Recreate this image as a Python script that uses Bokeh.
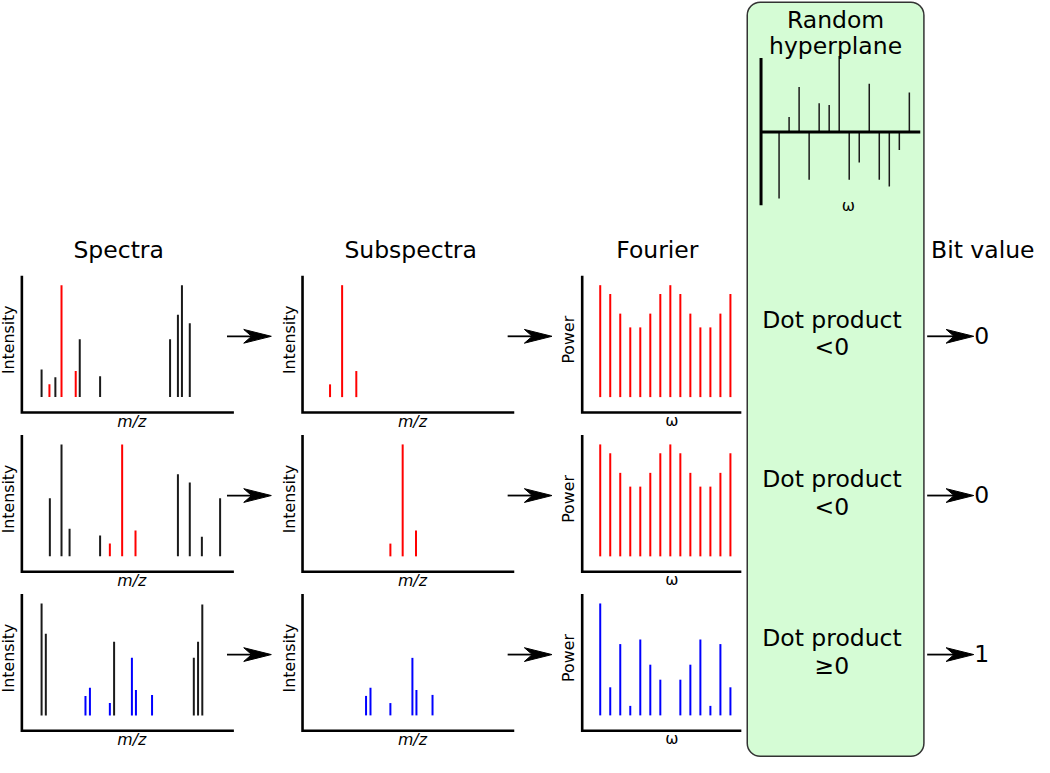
import numpy as np
from bokeh.plotting import figure
from bokeh.models import Range1d, BoxAnnotation, ColumnDataSource
from bokeh.embed import file_html
from bokeh.resources import INLINE
from bokeh.core.properties import value

# ---------------- data ----------------
column_titles = ["Spectra", "Subspectra", "Fourier", "Bit value"]
box_title = ["Random", "hyperplane"]

spec1_mz = [9.3, 13.0, 15.8, 18.7, 25.4, 27.3, 36.9, 69.9, 73.6, 75.5, 79.2]
spec1_int = [24.7, 11.4, 17.7, 100, 23.3, 51.8, 18.6, 51.8, 73.6, 100, 66.0]
spec1_sel = [0, 1, 0, 1, 1, 0, 0, 0, 0, 0, 0]

spec2_mz = [13.2, 18.7, 22.5, 36.9, 41.5, 47.3, 53.6, 73.6, 79.2, 84.9, 93.5]
spec2_int = [51.8, 100, 24.6, 18.7, 11.4, 100, 23.1, 73.3, 66.0, 17.5, 51.8]
spec2_sel = [0, 0, 0, 0, 1, 1, 1, 0, 0, 0, 0]

spec3_mz = [9.3, 11.3, 30.0, 32.1, 41.5, 43.5, 51.9, 53.8, 61.4, 81.1, 83.1, 85.1]
spec3_int = [100, 73.0, 17.4, 24.7, 11.0, 65.7, 51.4, 22.7, 18.3, 51.4, 65.7, 99.0]
spec3_sel = [0, 0, 1, 1, 1, 0, 1, 1, 1, 0, 0, 0]

freq_k = list(range(1, 15))
power1 = [100, 92.1, 74.6, 62.3, 62.3, 74.6, 92.1, 100, 92.1, 74.6, 62.3, 62.3, 74.6, 92.1]
power2 = [100, 92.1, 74.6, 62.3, 62.3, 74.6, 92.1, 100, 92.1, 74.6, 62.3, 62.3, 74.6, 92.1]
power3 = [100, 25.1, 63.7, 8.5, 67.8, 45.3, 31.9, 0, 31.9, 45.3, 67.8, 8.5, 63.7, 25.1]

hyper_w = [-0.875, 0.197, 0.593, -0.628, 0.378, 0.356, 1.0, -0.628, -0.400,
           0.635, -0.628, -0.718, -0.237, 0.519]

highlight = ["red", "red", "blue"]
dot_sign = ["<0", "<0", "\u22650"]
bit_values = ["0", "0", "1"]

spectra = [(spec1_mz, spec1_int, spec1_sel),
           (spec2_mz, spec2_int, spec2_sel),
           (spec3_mz, spec3_int, spec3_sel)]
powers = [power1, power2, power3]

# ---------------- layout (canvas units) ----------------
CW, CH = 1050.0, 773.0
col_axis_x = [21.7, 306.7, 590.7]
col_axis_len = [215.3, 215.0, 161.6]
row_axis_y = [420.7, 583.3, 745.7]
BASE_OFF, UNIT, TOP_OFF = 15.7, 1.143, 139.7
V_AXIS = -BASE_OFF / UNIT
V_TOP = (TOP_OFF - BASE_OFF) / UNIT
MZ_DOM = (0.0, 100.0)
K_DOM = (-0.8, 15.09)
FONT = value("DejaVu Sans")
TITLE_SIZE = value("23.5px")
LABEL_SIZE = value("15.8px")
INK = "#1a1a1a"
TS = dict(text_font=FONT, text_align="center", text_baseline="middle", text_color="black")

xr, yr = {}, {}


def add_ranges(name, cx0, cx1, d0, d1, cy0, cy1, v0, v1):
    bx = (cx1 - cx0) / (d1 - d0)
    ax = cx0 - bx * d0
    xr[name] = Range1d(start=(0 - ax) / bx, end=(CW - ax) / bx)
    by = (cy1 - cy0) / (v1 - v0)
    ay = cy0 - by * v0
    yr[name] = Range1d(start=(CH - ay) / by, end=(0 - ay) / by)


p = figure(width=1034, height=757, x_range=Range1d(0, CW), y_range=Range1d(CH, 0),
           x_axis_type=None, y_axis_type=None, toolbar_location=None,
           output_backend="svg", min_border=0, outline_line_color=None)
p.background_fill_color = "white"

# green box
p.add_layout(BoxAnnotation(left=758.3, right=937.7, top=1.7, bottom=771.7,
                           border_radius=13, fill_color="#d5fcd5", fill_alpha=1.0,
                           line_color="#333333", line_alpha=1.0, line_width=1.5,
                           level="underlay"))

for r in range(3):
    for c in range(3):
        dom = MZ_DOM if c < 2 else K_DOM
        add_ranges(f"p{r}{c}", col_axis_x[c], col_axis_x[c] + col_axis_len[c], dom[0], dom[1],
                   row_axis_y[r], row_axis_y[r] - TOP_OFF, V_AXIS, V_TOP)
add_ranges("hyp", 772.3, 934.0, K_DOM[0], K_DOM[1], 134.3, 56.7, 0.0, 1.0)
p.extra_x_ranges = xr
p.extra_y_ranges = yr

# panels
for r in range(3):
    mz, inten, sel = spectra[r]
    cols = [highlight[r] if s else INK for s in sel]
    sub_mz = [m for m, s in zip(mz, sel) if s]
    sub_int = [v for v, s in zip(inten, sel) if s]
    panel_data = [
        (mz, inten, cols),
        (sub_mz, sub_int, [highlight[r]] * len(sub_mz)),
        (freq_k, powers[r], [highlight[r]] * len(freq_k)),
    ]
    for c in range(3):
        name = f"p{r}{c}"
        dom = MZ_DOM if c < 2 else K_DOM
        xs, ys, cc = panel_data[c]
        src = ColumnDataSource(dict(x=xs, y0=[0.0] * len(xs), y1=ys, color=cc))
        p.segment(x0="x", y0="y0", x1="x", y1="y1", color="color", source=src,
                  line_width=2, line_cap="butt", x_range_name=name, y_range_name=name)
        p.line(x=[dom[0], dom[0], dom[1]], y=[V_TOP, V_AXIS, V_AXIS], line_color="black",
               line_width=2.6, line_join="miter", x_range_name=name, y_range_name=name)

# hyperplane
hsrc = ColumnDataSource(dict(x=freq_k, y0=[0.0] * len(freq_k), y1=hyper_w))
p.segment(x0="x", y0="y0", x1="x", y1="y1", source=hsrc, line_color=INK, line_width=1.5,
          x_range_name="hyp", y_range_name="hyp")
p.segment(x0=[K_DOM[0], K_DOM[0]], y0=[0.0, -0.962], x1=[K_DOM[1], K_DOM[0]], y1=[0.0, 0.974],
          line_color="black", line_width=3, x_range_name="hyp", y_range_name="hyp")

# arrows
ax0, ax1, ay0, ay1 = [], [], [], []
hx, hy = [], []
for r in range(3):
    y = row_axis_y[r] - 77.8
    for xs_, xt in [(230.0, 275.0), (515.0, 560.0), (941.0, 988.3)]:
        ax0.append(xs_); ax1.append(xt - 20); ay0.append(y); ay1.append(y)
        hx.append([xt, xt - 28, xt - 20, xt - 28])
        hy.append([y, y - 7, y, y + 7])
p.segment(x0=ax0, y0=ay0, x1=ax1, y1=ay1, line_color="black", line_width=1.8)
p.patches(xs=hx, ys=hy, fill_color="black", line_color="black", line_width=1)

# texts (anchored at the middle of the cap height)
TOFF = 8.5   # 0.36 em at title size
LOFF = 5.7   # 0.36 em at label size
p.text(x=[120.0, 416.5, 667.0, 997.5], y=[263.3 - TOFF] * 4, text=column_titles,
       text_font_size=TITLE_SIZE, **TS)
p.text(x=[848.0, 848.0], y=[28.3 - TOFF, 55.0 - TOFF], text=box_title,
       text_font_size=TITLE_SIZE, **TS)
p.text(x=[861.0], y=[215.0 - LOFF], text=["\u03c9"], text_font_size=LABEL_SIZE, **TS)

dx, dy, dt = [], [], []
bx_, by_, bt = [], [], []
lx, ly, lt = [], [], []
wx, wy = [], []
vx, vy, vt = [], [], []
for r in range(3):
    a = row_axis_y[r]
    dx += [844.3, 844.3]; dy += [a - 86.4 - TOFF, a - 58.0 - TOFF]
    dt += ["Dot product", dot_sign[r]]
    bx_.append(996.5); by_.append(a - 70.0 - TOFF); bt.append(bit_values[r])
    for c in range(3):
        vx.append(col_axis_x[c] - (13.4 if c < 2 else 14.0))
        vy.append(a - 74.3)
        vt.append("Intensity" if c < 2 else "Power")
    lx += [col_axis_x[0] + 111.6, col_axis_x[1] + 111.6]
    ly += [a + 14.8 - LOFF, a + 14.8 - LOFF]
    lt += ["m/z", "m/z"]
    wx.append(col_axis_x[2] + 91.0); wy.append(a + 14.0 - LOFF)

p.text(x=dx, y=dy, text=dt, text_font_size=TITLE_SIZE, **TS)
p.text(x=bx_, y=by_, text=bt, text_font_size=TITLE_SIZE, **TS)
p.text(x=lx, y=ly, text=lt, text_font_size=LABEL_SIZE, text_font_style="italic", **TS)
p.text(x=wx, y=wy, text=["\u03c9"] * 3, text_font_size=LABEL_SIZE, **TS)
p.text(x=vx, y=vy, text=vt, text_font_size=LABEL_SIZE, angle=np.pi / 2, **TS)

open("out.html", "w").write(file_html(p, INLINE))
